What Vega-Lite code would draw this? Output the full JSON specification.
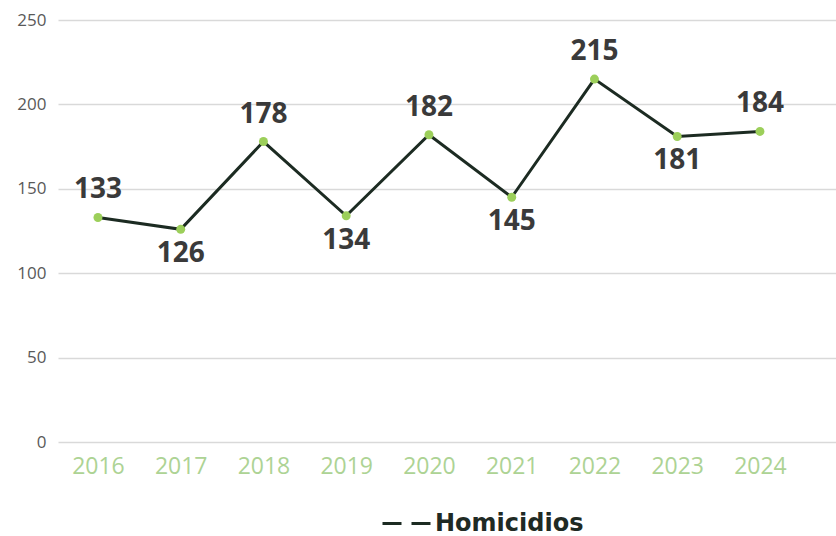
{
  "$schema": "https://vega.github.io/schema/vega-lite/v6.json",
  "autosize": "none",
  "width": 778,
  "height": 422,
  "padding": {"left": 58, "top": 20, "right": 0, "bottom": 94},
  "background": "white",
  "config": {"view": {"stroke": null}},
  "data": {"values": [
    {"year": 2016, "value": 133},
    {"year": 2017, "value": 126},
    {"year": 2018, "value": 178},
    {"year": 2019, "value": 134},
    {"year": 2020, "value": 182},
    {"year": 2021, "value": 145},
    {"year": 2022, "value": 215},
    {"year": 2023, "value": 181},
    {"year": 2024, "value": 184}
  ]},
  "encoding": {
    "x": {"field": "year", "type": "quantitative",
      "scale": {"domain": [2015.517, 2024.919], "nice": false, "zero": false},
      "axis": {"title": null, "values": [2016, 2017, 2018, 2019, 2020, 2021, 2022, 2023, 2024], "format": "d",
        "domain": false, "ticks": false, "grid": false, "labelAngle": 0,
        "labelColor": "#add394", "labelFont": "Open Sans", "labelFontSize": 23, "labelPadding": 13}},
    "y": {"field": "value", "type": "quantitative",
      "scale": {"domain": [0, 250], "nice": false},
      "axis": {"title": null, "values": [0, 50, 100, 150, 200, 250], "domain": false, "ticks": false,
        "gridColor": "#d9d9d9", "gridWidth": 1.5, "labelColor": "#595959", "labelFont": "Open Sans",
        "labelFontSize": 17, "labelPadding": 12}}
  },
  "layer": [
    {
      "mark": {"type": "line", "strokeWidth": 3},
      "encoding": {
        "color": {"datum": "Homicidios", "type": "nominal",
          "scale": {"range": ["#1c2b22"]},
          "legend": {"title": null, "orient": "none", "legendX": 323, "legendY": 478,
            "symbolType": "stroke", "symbolSize": 2304, "symbolStrokeWidth": 3, "symbolDash": [19, 10],
            "labelFont": "DejaVu Sans", "labelFontWeight": "bold", "labelFontSize": 24, "labelColor": "#1f2a24",
            "labelOffset": 3}}
      }
    },
    {
      "mark": {"type": "circle", "size": 80, "color": "#9ccf5a", "opacity": 1}
    },
    {
      "transform": [{"filter": {"not": {"field": "year", "oneOf": [2017, 2019, 2021, 2023]}}}],
      "mark": {"type": "text", "dy": -27, "font": "Open Sans", "fontWeight": "bold", "fontSize": 28, "color": "#3a3a3a"},
      "encoding": {"text": {"field": "value", "type": "quantitative"}}
    },
    {
      "transform": [{"filter": {"field": "year", "oneOf": [2017, 2019, 2021, 2023]}}],
      "mark": {"type": "text", "dy": 25, "font": "Open Sans", "fontWeight": "bold", "fontSize": 28, "color": "#3a3a3a"},
      "encoding": {"text": {"field": "value", "type": "quantitative"}}
    }
  ]
}
